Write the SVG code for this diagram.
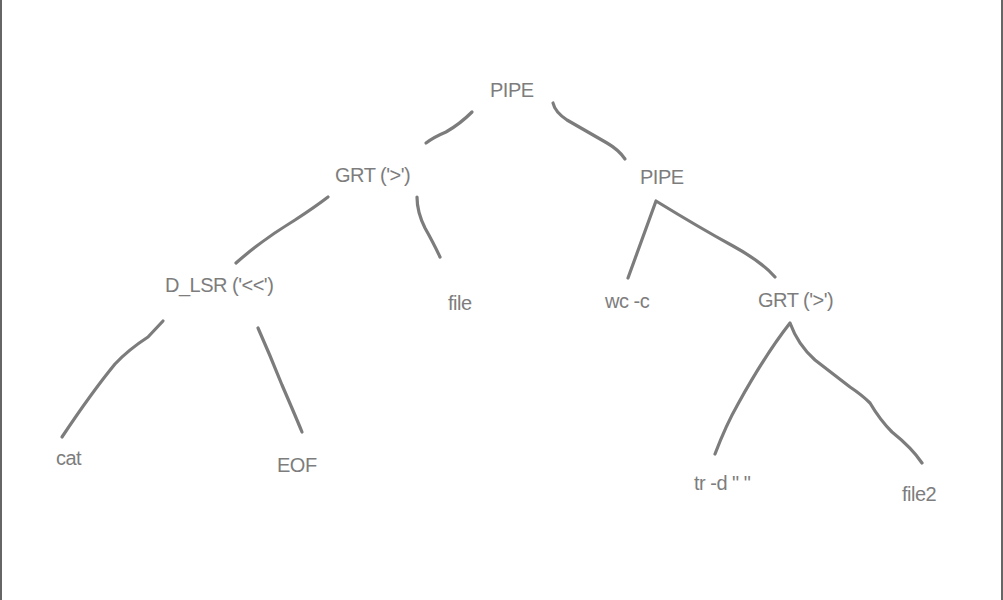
<svg xmlns="http://www.w3.org/2000/svg" width="1003" height="600" viewBox="0 0 1003 600">
<style>
.lbl{font-family:"Liberation Sans",Arial,sans-serif;font-size:20px;fill:#7d7d7d;letter-spacing:-0.5px}
.edge{fill:none;stroke:#7c7c7c;stroke-width:3.2;stroke-linecap:round;stroke-linejoin:round}
</style>
<rect x="0" y="0" width="1003" height="600" fill="#ffffff"/>
<rect x="0" y="0" width="2" height="600" fill="#666666"/>
<rect x="1001" y="0" width="2" height="600" fill="#666666"/>
<g id="connectors">
<path class="edge" d="M472,112 Q460,124 446,132 Q434,137 426,143"/>
<path class="edge" d="M553,103 Q555,112 567,120 Q588,132 607,143 Q619,150 625,159"/>
<path class="edge" d="M328,197 Q315,207 295,220 Q262,240 236,263"/>
<path class="edge" d="M417,197 Q417,212 425,228 Q434,244 440,257"/>
<path class="edge" d="M628,278 L656,201 Q700,228 733,246 Q762,262 775,277"/>
<path class="edge" d="M163,321 L148,337 Q128,350 115,364 Q92,392 62,437"/>
<path class="edge" d="M258,328 Q270,355 282,385 Q295,415 302,432"/>
<path class="edge" d="M715,454 Q726,425 738,404 Q765,355 790,323 Q798,345 815,360 L850,387 Q862,395 870,403 Q880,420 892,432 Q912,448 922,463"/>
</g>
<g id="node-pipe-root"><text class="lbl" x="490" y="97">PIPE</text></g>
<g id="node-grt-left"><text class="lbl" x="335" y="182">GRT ('&gt;')</text></g>
<g id="node-pipe-right"><text class="lbl" x="640" y="184">PIPE</text></g>
<g id="node-dlsr"><text class="lbl" x="165" y="292">D_LSR ('&lt;&lt;')</text></g>
<g id="node-file"><text class="lbl" x="448" y="310">file</text></g>
<g id="node-wc"><text class="lbl" x="605" y="308">wc -c</text></g>
<g id="node-grt-right"><text class="lbl" x="758" y="307">GRT ('&gt;')</text></g>
<g id="node-cat"><text class="lbl" x="56" y="465">cat</text></g>
<g id="node-eof"><text class="lbl" x="277" y="472">EOF</text></g>
<g id="node-tr"><text class="lbl" x="694" y="490">tr -d " "</text></g>
<g id="node-file2"><text class="lbl" x="902" y="501">file2</text></g>
</svg>
